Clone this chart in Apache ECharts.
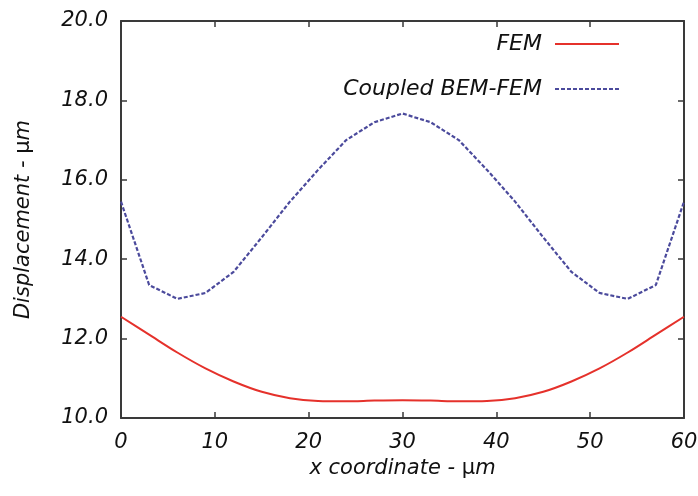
<!DOCTYPE html>
<html>
<head>
<meta charset="utf-8">
<script src="https://cdn.jsdelivr.net/npm/echarts@6/dist/echarts.min.js"></script>
<style>
  html, body { margin: 0; padding: 0; background: #fff; }
  #chart { width: 698px; height: 496px; }
</style>
</head>
<body>
<div id="chart"></div>
<script>
// x positions (um), every 3
var xs = [0, 3, 6, 9, 12, 15, 18, 21, 24, 27, 30, 33, 36, 39, 42, 45, 48, 51, 54, 57, 60];
var femValues = [12.55, 12.1, 11.65, 11.25, 10.92, 10.66, 10.5, 10.43, 10.42, 10.44, 10.45,
                 10.44, 10.42, 10.43, 10.5, 10.66, 10.92, 11.25, 11.65, 12.1, 12.55];
var bemValues = [15.45, 13.35, 13.0, 13.15, 13.68, 14.55, 15.45, 16.25, 17.0, 17.45, 17.67,
                 17.45, 17.0, 16.25, 15.45, 14.55, 13.68, 13.15, 13.0, 13.35, 15.45];
var seriesNames = ['FEM', 'Coupled BEM-FEM'];

function pairs(vals) {
  return xs.map(function (x, i) { return [x, vals[i]]; });
}

var font = '"DejaVu Sans", sans-serif';
var axisColor = '#3a3a3a';
var txt = '#111';

var chart = echarts.init(document.getElementById('chart'));

var richName = {
  i: { fontSize: 21, fontStyle: 'italic', color: txt, fontFamily: font },
  u: { fontSize: 21, color: txt, fontFamily: font }
};

var option = {
  animation: false,
  textStyle: { fontFamily: font },
  grid: { left: 121, right: 14, top: 21, bottom: 78, outerBoundsMode: 'none' },
  legend: {
    orient: 'vertical',
    right: 73,
    top: 28,
    align: 'right',
    itemWidth: 64,
    itemHeight: 22,
    itemGap: 23,
    data: seriesNames,
    itemStyle: { opacity: 0 },
    textStyle: { fontSize: 22, fontStyle: 'italic', color: txt, fontFamily: font, padding: [0, 8, 0, 0] }
  },
  xAxis: [{
    type: 'value',
    min: 0, max: 60, interval: 10,
    name: '{i|x coordinate - }{u|μ}{i|m}',
    nameLocation: 'middle',
    nameGap: 39,
    nameTextStyle: { rich: richName },
    axisLine: { show: true, onZero: false, lineStyle: { color: axisColor, width: 2 } },
    axisTick: { inside: true, length: 6, lineStyle: { color: axisColor, width: 1.5 } },
    axisLabel: { margin: 14, fontSize: 21, fontStyle: 'italic', color: txt, fontFamily: font },
    splitLine: { show: false }
  }, {
    type: 'value',
    position: 'top',
    min: 0, max: 60, interval: 10,
    axisLine: { show: true, onZero: false, lineStyle: { color: axisColor, width: 2 } },
    axisTick: { inside: true, length: 6, lineStyle: { color: axisColor, width: 1.5 } },
    axisLabel: { show: false },
    splitLine: { show: false }
  }],
  yAxis: [{
    type: 'value',
    min: 10, max: 20, interval: 2,
    name: '{i|Displacement - }{u|μ}{i|m}',
    nameLocation: 'middle',
    nameRotate: 90,
    nameGap: 87,
    nameTextStyle: { rich: richName },
    axisLine: { show: true, onZero: false, lineStyle: { color: axisColor, width: 2 } },
    axisTick: { show: true, inside: true, length: 6, lineStyle: { color: axisColor, width: 1.5 } },
    axisLabel: {
      margin: 13, fontSize: 21, fontStyle: 'italic', color: txt, fontFamily: font,
      formatter: function (v) { return v.toFixed(1); }
    },
    splitLine: { show: false }
  }, {
    type: 'value',
    position: 'right',
    min: 10, max: 20, interval: 2,
    axisLine: { show: true, onZero: false, lineStyle: { color: axisColor, width: 2 } },
    axisTick: { show: true, inside: true, length: 6, lineStyle: { color: axisColor, width: 1.5 } },
    axisLabel: { show: false },
    splitLine: { show: false }
  }],
  series: [{
    name: seriesNames[0],
    type: 'line',
    data: pairs(femValues),
    smooth: 0.3,
    symbol: 'none',
    lineStyle: { color: '#e5312b', width: 2 },
    itemStyle: { color: '#e5312b' }
  }, {
    name: seriesNames[1],
    type: 'line',
    data: pairs(bemValues),
    symbol: 'none',
    lineStyle: { color: '#4b4a9c', width: 2.2, type: [4, 2] },
    itemStyle: { color: '#4b4a9c' }
  }]
};

chart.setOption(option);
</script>
</body>
</html>
